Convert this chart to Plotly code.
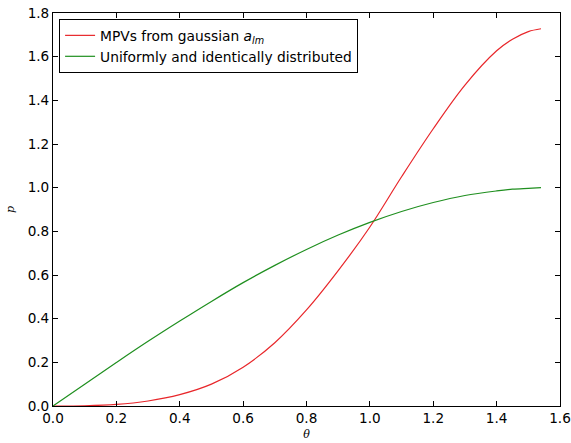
import plotly.graph_objects as go

theta = [0.0, 0.1, 0.2, 0.3, 0.4, 0.5, 0.6, 0.7, 0.8, 0.9, 1.0, 1.1, 1.2, 1.3, 1.4, 1.45, 1.5, 1.54]
p_gauss = [0.0, 0.001, 0.007, 0.023, 0.052, 0.100, 0.178, 0.290, 0.44, 0.62, 0.82, 1.05, 1.27, 1.47, 1.627, 1.68, 1.715, 1.728]
p_uniform = [0.0, 0.100, 0.199, 0.296, 0.389, 0.479, 0.565, 0.644, 0.717, 0.783, 0.841, 0.891, 0.932, 0.964, 0.985, 0.993, 0.997, 1.0]

series_names = ["MPVs from gaussian <i>a</i><sub><i>lm</i></sub>", "Uniformly and identically distributed"]
series_colors = ["#e8262a", "#1f8f1f"]

x_ticks = [0.0, 0.2, 0.4, 0.6, 0.8, 1.0, 1.2, 1.4, 1.6]
y_ticks = [0.0, 0.2, 0.4, 0.6, 0.8, 1.0, 1.2, 1.4, 1.6, 1.8]

fig = go.Figure()
for ys, name, col in zip([p_gauss, p_uniform], series_names, series_colors):
    fig.add_trace(go.Scatter(x=theta, y=ys, mode="lines", name=name,
                             line=dict(color=col, width=1.2, shape="spline", smoothing=1.0)))

axis_common = dict(showgrid=False, zeroline=False, showline=True, linecolor="black",
                   linewidth=1, mirror="ticks", ticks="inside", ticklen=5, tickcolor="black",
                   automargin=False,
                   tickfont=dict(family="DejaVu Sans", size=13.6, color="black"))

fig.update_layout(
    width=571, height=443,
    margin=dict(l=53, r=11, t=13, b=37, autoexpand=False),
    paper_bgcolor="white", plot_bgcolor="white",
    xaxis=dict(range=[0, 1.6], tickvals=x_ticks, ticktext=[f"{v:.1f}" for v in x_ticks],
               title=dict(text="<i>θ</i>", font=dict(family="DejaVu Serif", size=11, color="black"), standoff=4),
               **axis_common),
    yaxis=dict(range=[0, 1.8], tickvals=y_ticks, ticktext=[f"{v:.1f}" for v in y_ticks],
               title=dict(text="<i>p</i>", font=dict(family="DejaVu Serif", size=11, color="black"), standoff=10),
               **axis_common),
    legend=dict(x=0.012, y=0.985, xanchor="left", yanchor="top",
                bordercolor="black", borderwidth=1, bgcolor="white",
                font=dict(family="DejaVu Sans", size=13.8, color="black"),
                itemwidth=30, tracegroupgap=0),
    showlegend=True,
)

fig.write_html("out.html", config={"displayModeBar": False},
               post_script="document.body.style.margin='0';")
